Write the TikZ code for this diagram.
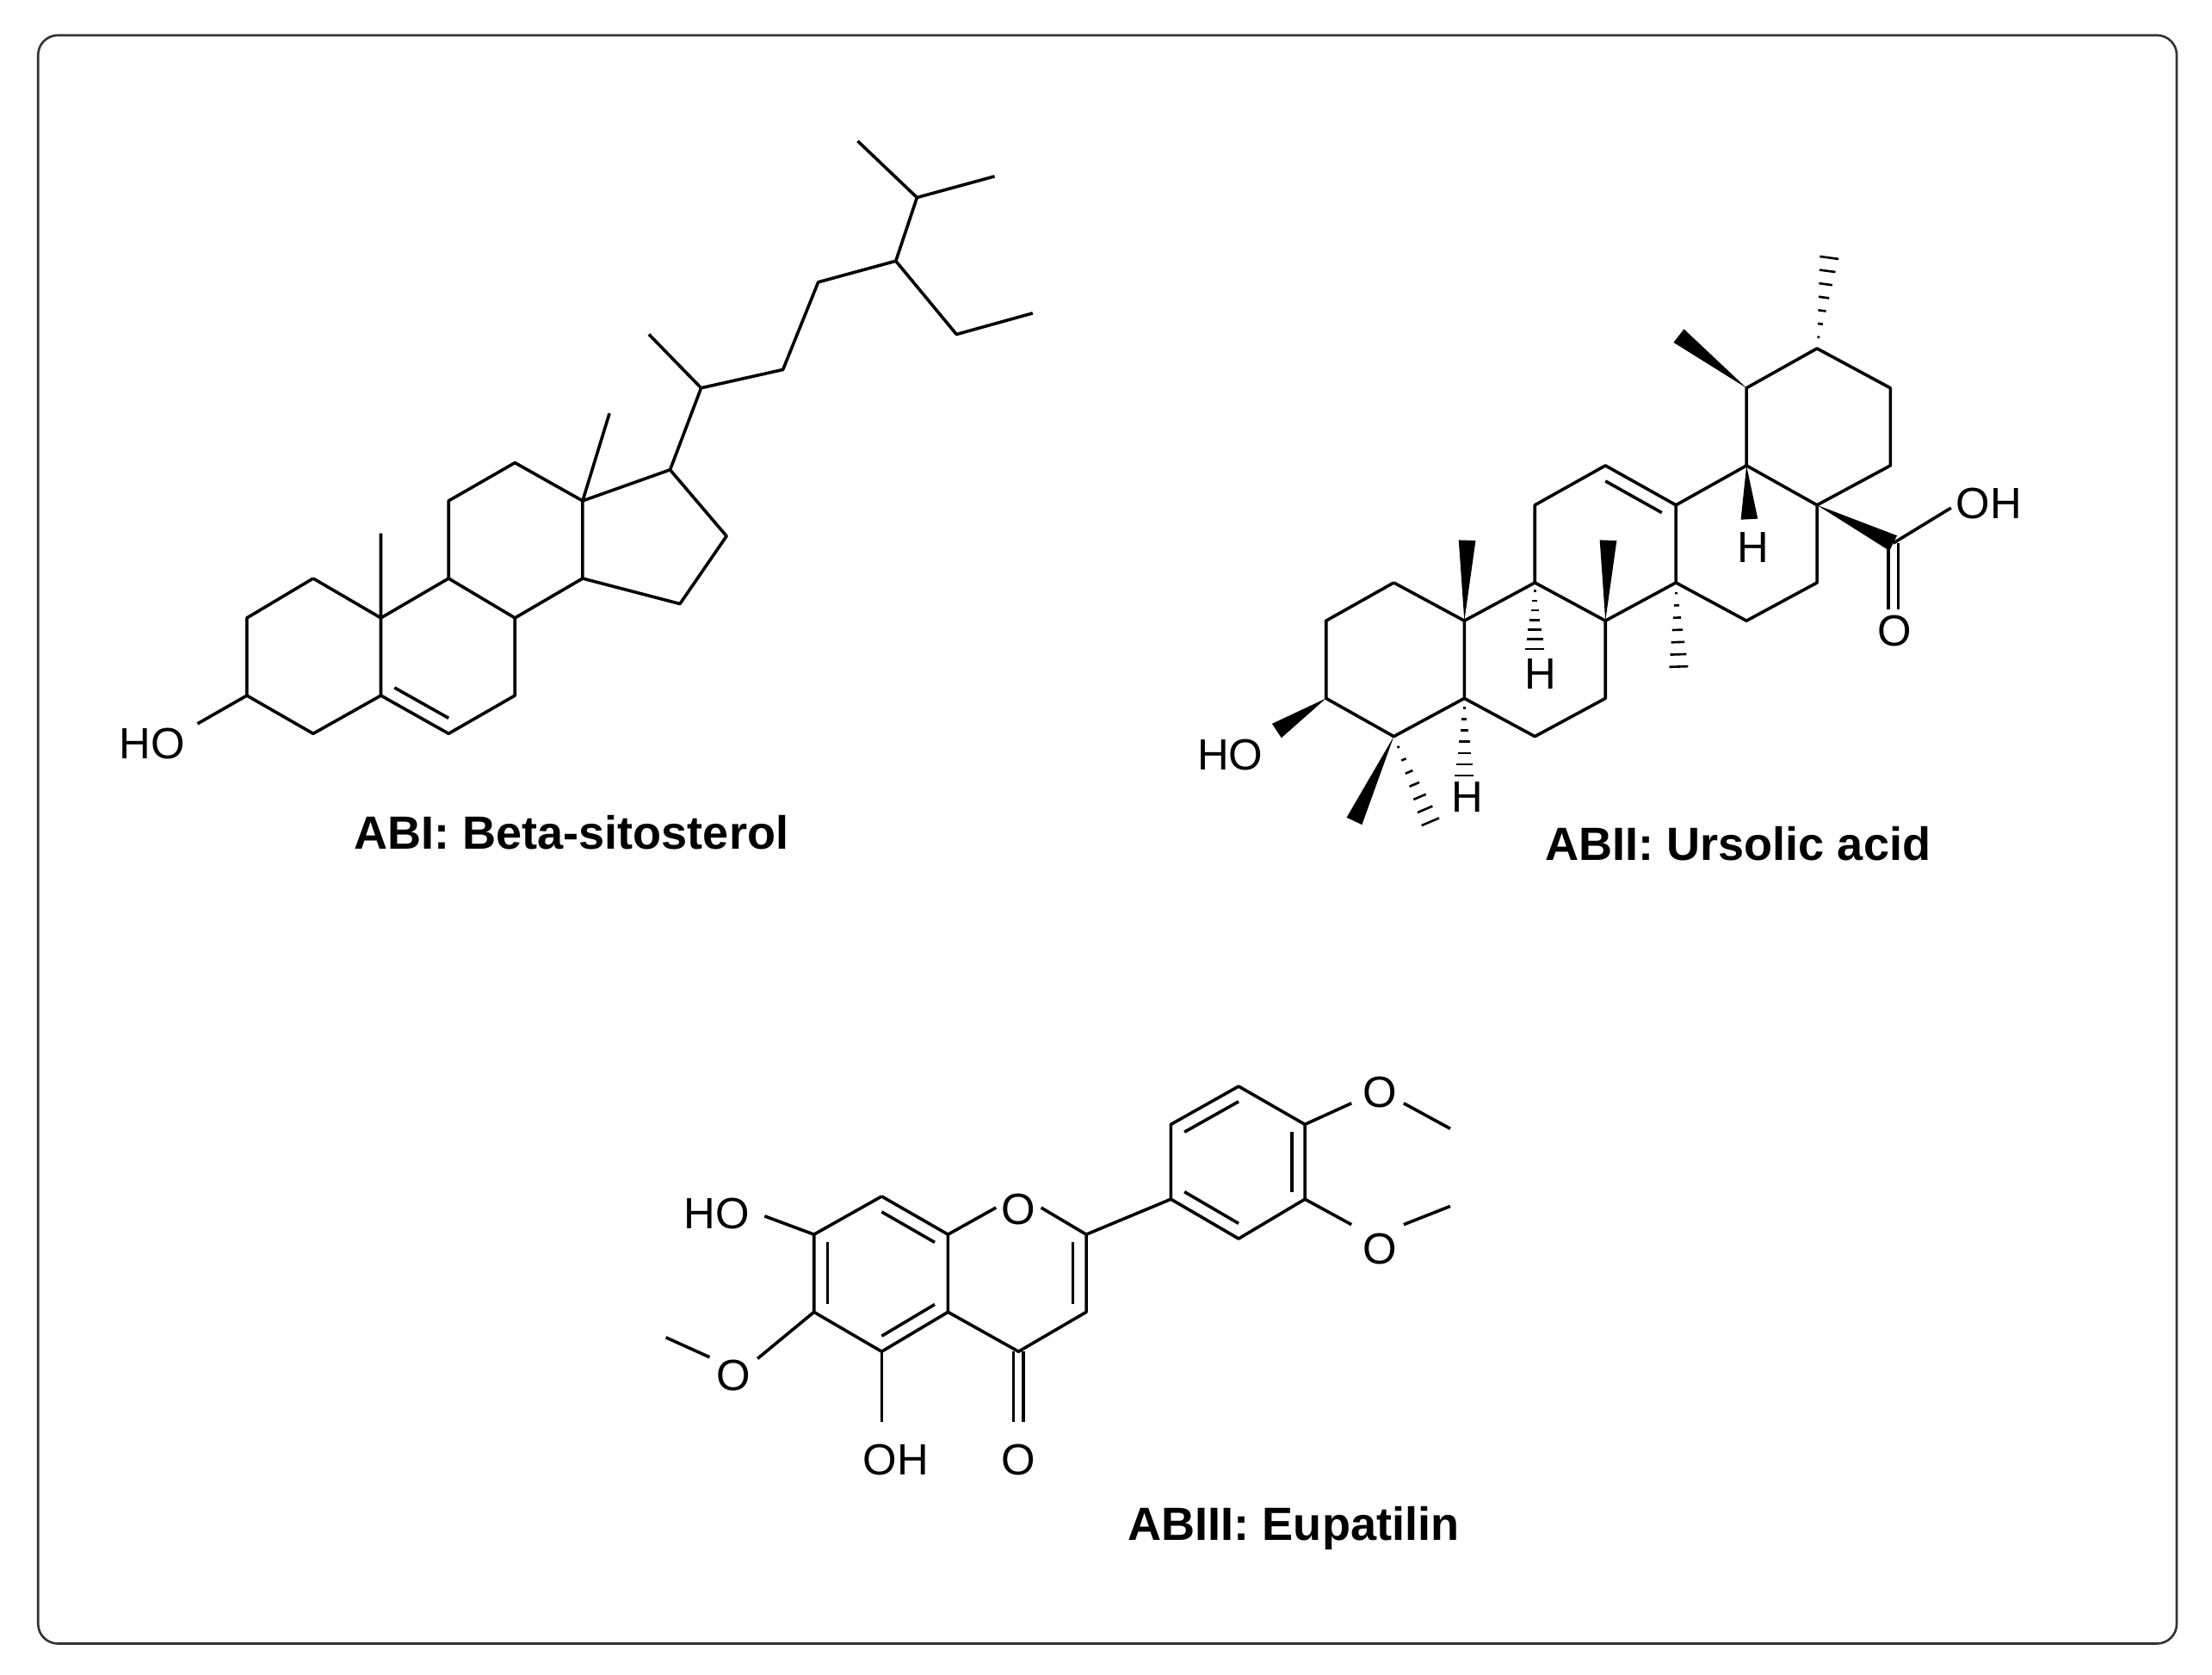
\documentclass[tikz,border=0pt]{standalone}
\usepackage{fontspec}
\setmainfont{Liberation Sans}
\usetikzlibrary{calc}
\newcommand\bwedge[2]{\fill (#1) -- ($(#2)!6pt!90:(#1)$) -- ($(#2)!6pt!-90:(#1)$) -- cycle;}
\newcommand\hwedge[2]{\foreach \t in {0.12,0.26,0.40,0.54,0.68,0.82,0.96}{\path (#1) -- (#2) coordinate[pos=\t] (hm); \pgfmathsetmacro\hw{\t*7}\draw[line width=1.6pt] ($(hm)!\hw pt!90:(#2)$) -- ($(hm)!\hw pt!-90:(#2)$);}}
\newcommand\dbl[3]{\draw ($(#1)!0.2!(#3)$) -- ($(#2)!0.2!(#3)$);}
\newcommand\xdbl[2]{\draw ($(#1)!3.5pt!90:(#2)$) -- ($(#2)!3.5pt!-90:(#1)$); \draw ($(#1)!3.5pt!-90:(#2)$) -- ($(#2)!3.5pt!90:(#1)$);}
\begin{document}
\begin{tikzpicture}[x=1pt,y=-1pt,line width=2.2pt,line join=round,
  atom/.style={font=\fontsize{31}{31}\selectfont,inner sep=2pt},
  title/.style={font=\fontsize{33}{33}\selectfont\bfseries}]
\useasboundingbox (0,0) rectangle (1568,1187);
\draw[line width=1.6pt,rounded corners=14pt,draw=black!80] (27,25) rectangle (1543,1165);
% ---------- ABI ----------
\foreach \n/\x/\y in {a1/222/410,a10/270/438,a5/270/493,a4/222/520,a3/175/493,a2/175/438,
 b6/318/520,b7/365/493,b8/365/438,b9/318/410,c11/318/355,c12/365/328,c13/413/355,c14/413/410,
 d17/475/333,d16/515/380,d15/482/428,m19/270/378,m18/432/293,
 s20/497/275,s21/460/237,s22/555/262,s23/580/200,s24/635/185,s25/650/140,s26/608/100,s27/705/125,s28/678/237,s29/732/222,
 cA/222/465,cB/318/465,hoe/140/513}
 \coordinate (\n) at (\x,\y);
\node[atom] (HO1) at (108,527) {HO};
\draw (a1)--(a10)--(a5)--(a4)--(a3)--(a2)--(a1);
\draw (a5)--(b6)--(b7)--(b8)--(b9)--(a10);
\draw (b9)--(c11)--(c12)--(c13)--(c14)--(b8);
\draw (c13)--(d17)--(d16)--(d15)--(c14);
\draw (a10)--(m19) (c13)--(m18);
\draw (a3)--(hoe);
\dbl{a5}{b6}{cB}
\draw (d17)--(s20)--(s21) (s20)--(s22)--(s23)--(s24)--(s25)--(s26) (s25)--(s27) (s24)--(s28)--(s29);
\node[title] (t1) at (405,590) {ABI: Beta-sitosterol};
% ---------- ABII ----------
\foreach \n/\x/\y in {u1/988/413,u10/1038/440,u5/1038/495,u4/988/522,u3/940/495,u2/940/440,
 u9/1088/413,u8/1138/440,u7/1138/495,u6/1088/522,
 u11/1088/358,u12/1138/330,u13/1188/358,u14/1188/413,
 u18/1238/330,u17/1288/358,u16/1288/413,u15/1238/440,
 u19/1238/275,u20/1288/247,u21/1340/275,u22/1340/330,
 cC/1138/385,
 w3/905/518,w4a/960/582,w4b/1015/585,w5/1038/552,w9/1088/462,w10/1040/383,w8/1140/383,w14/1190/475,
 w18/1240/368,w19/1190/238,w20/1297/180,u28/1342/385,oh2/1383/360,o2/1342/432}
 \coordinate (\n) at (\x,\y);
\draw (u1)--(u10)--(u5)--(u4)--(u3)--(u2)--(u1);
\draw (u10)--(u9)--(u8)--(u7)--(u6)--(u5);
\draw (u9)--(u11)--(u12)--(u13)--(u14)--(u8);
\draw (u13)--(u18)--(u17)--(u16)--(u15)--(u14);
\draw (u18)--(u19)--(u20)--(u21)--(u22)--(u17);
\dbl{u12}{u13}{cC}
\bwedge{u3}{w3}
\node[atom] (HO2) at (872,535) {HO};
\bwedge{u4}{w4a}
\hwedge{u4}{w4b}
\hwedge{u5}{w5}
\node[atom] (H5) at (1040,565) {H};
\hwedge{u9}{w9}
\node[atom] (H9) at (1092,478) {H};
\bwedge{u10}{w10}
\bwedge{u8}{w8}
\hwedge{u14}{w14}
\bwedge{u18}{w18}
\node[atom] (H18) at (1243,388) {H};
\bwedge{u19}{w19}
\hwedge{u20}{w20}
\bwedge{u17}{u28}
\draw (u28)--(oh2);
\node[atom] (OH2) at (1410,357) {OH};
\xdbl{u28}{o2}
\node[atom] (O2) at (1343,447) {O};
\node[title] (t2) at (1232,598) {ABII: Ursolic acid};
% ---------- ABIII ----------
\foreach \n/\x/\y in {e8/625/848,e8a/672/875,e4a/672/930,e5/625/958,e6/577/930,e7/577/875,
 e2/770/875,e3/770/930,e4/722/958,o1/722/856,
 f1/830/850,f2/830/797,f3/878/770,f4/925/797,f5/925/850,f6/878/878,
 cE/625/903,cF/722/903,cG/878/824,
 g7/542/862,g5/625/1008,g6/537/963,g4/722/1008,gm1/472/948,
 h4/958/782,h3/958/868,hm4/1028/800,hm3/1028/855}
 \coordinate (\n) at (\x,\y);
\draw (e8)--(e8a)--(e4a)--(e5)--(e6)--(e7)--(e8);
\draw (e8a)--(706,856) (738,856)--(e2)--(e3)--(e4)--(e4a);
\draw (e2)--(f1)--(f2)--(f3)--(f4)--(f5)--(f6)--(f1);
\dbl{e7}{e6}{cE}\dbl{e8}{e8a}{cE}\dbl{e4a}{e5}{cE}
\dbl{e2}{e3}{cF}
\dbl{f2}{f3}{cG}\dbl{f4}{f5}{cG}\dbl{f6}{f1}{cG}
\node[atom] (O1) at (722,857) {O};
\draw (e7)--(g7);
\node[atom] (HO3) at (508,860) {HO};
\draw (e5)--(g5);
\node[atom] (OH3) at (635,1035) {OH};
\draw (e6)--(g6);
\node[atom] (OM) at (520,975) {O};
\draw (503,962)--(gm1);
\xdbl{e4}{g4}
\node[atom] (O4) at (722,1035) {O};
\draw (f4)--(h4) (995,782)--(hm4);
\node[atom] (O4p) at (978,774) {O};
\draw (f5)--(h3) (995,868)--(hm3);
\node[atom] (O3p) at (978,885) {O};
\node[title] (t3) at (917,1083) {ABIII: Eupatilin};
\end{tikzpicture}
\end{document}
